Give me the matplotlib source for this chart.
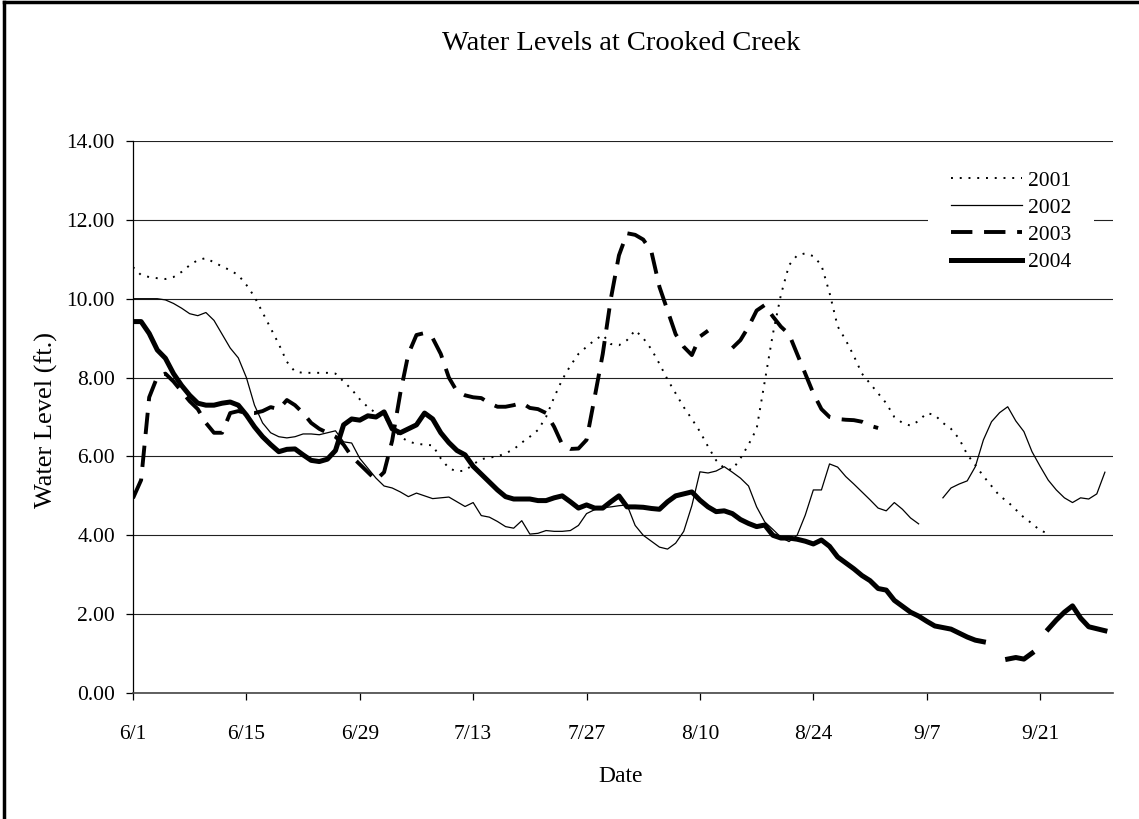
import numpy as np
import matplotlib
matplotlib.use("Agg")
import matplotlib.pyplot as plt
from matplotlib.lines import Line2D

nan = np.nan

# ---- data (day index 0 = 6/1) ----
tick_days = [0, 14, 28, 42, 56, 70, 84, 98, 112]
tick_labels = ["6/1", "6/15", "6/29", "7/13", "7/27", "8/10", "8/24", "9/7", "9/21"]
y_ticks = [0, 2, 4, 6, 8, 10, 12, 14]

level_2001 = [10.8, 10.6, 10.55, 10.52, 10.5, 10.55, 10.68, 10.85, 10.98, 11.03,
              10.92, 10.82, 10.72, 10.6, 10.35, 10.05, 9.65, 9.25, 8.85, 8.4,
              8.15, 8.12, 8.12, 8.12, 8.12, 8.1, 7.9, 7.7, 7.45, 7.25,
              7.1, 7.0, 6.75, 6.5, 6.38, 6.32, 6.3, 6.28, 5.95, 5.7,
              5.62, 5.64, 5.8, 5.93, 5.97, 6.0, 6.08, 6.18, 6.35, 6.5,
              6.67, 7.0, 7.5, 7.95, 8.3, 8.6, 8.78, 8.95, 9.08, 8.85,
              8.82, 8.95, 9.2, 9.0, 8.72, 8.35, 7.95, 7.6, 7.25, 6.95,
              6.63, 6.25, 5.9, 5.7, 5.66, 5.95, 6.3, 6.7, 7.9, 9.1,
              10.1, 10.85, 11.1, 11.15, 11.08, 10.85, 10.15, 9.3, 8.95, 8.55,
              8.1, 7.85, 7.6, 7.35, 7.0, 6.85, 6.78, 6.9, 7.1, 7.05,
              6.85, 6.7, 6.45, 6.05, 5.78, 5.5, 5.25, 5.0, 4.85, 4.65,
              4.45, 4.3, 4.12, 4.05, nan, nan, nan, nan, nan, nan,
              nan]

level_2002 = [10.0, 10.0, 10.0, 10.0, 9.97, 9.88, 9.76, 9.62, 9.57, 9.65,
              9.45, 9.1, 8.75, 8.5, 8.0, 7.3, 6.85, 6.6, 6.5, 6.47,
              6.5, 6.57, 6.57, 6.55, 6.6, 6.65, 6.37, 6.34, 5.95, 5.7,
              5.45, 5.25, 5.2, 5.1, 4.98, 5.07, 5.0, 4.93, 4.95, 4.97,
              4.85, 4.73, 4.83, 4.5, 4.46, 4.35, 4.22, 4.18, 4.37, 4.03,
              4.05, 4.12, 4.1, 4.1, 4.12, 4.25, 4.55, 4.65, 4.7, 4.72,
              4.75, 4.77, 4.25, 4.0, 3.85, 3.7, 3.65, 3.8, 4.1, 4.75,
              5.61, 5.58, 5.63, 5.74, 5.6, 5.45, 5.25, 4.72, 4.34, 4.15,
              3.95, 3.84, 4.0, 4.51, 5.15, 5.15, 5.81, 5.73, 5.49, 5.3,
              5.1, 4.9, 4.69, 4.62, 4.83, 4.66, 4.44, 4.29, nan, nan,
              4.95, 5.2, 5.3, 5.38, 5.74, 6.42, 6.88, 7.11, 7.26, 6.9,
              6.63, 6.12, 5.75, 5.4, 5.15, 4.95, 4.83, 4.95, 4.92, 5.05,
              5.6]

level_2003 = [4.94, 5.4, 7.5, 8.02, 8.1, 7.9, 7.65, 7.4, 7.2, 6.85,
              6.6, 6.6, 7.1, 7.15, 7.1, 7.1, 7.15, 7.25, 7.2, 7.43,
              7.3, 7.1, 6.85, 6.7, 6.6, 6.5, 6.3, 6.0, 5.8, 5.6,
              5.4, 5.6, 6.4, 7.6, 8.6, 9.08, 9.13, 9.0, 8.6, 8.0,
              7.65, 7.55, 7.5, 7.48, 7.35, 7.26, 7.26, 7.3, 7.36, 7.23,
              7.2, 7.1, 6.75, 6.3, 6.19, 6.2, 6.42, 7.5, 8.6, 10.0,
              11.1, 11.66, 11.62, 11.5, 11.2, 10.3, 9.7, 9.1, 8.78, 8.57,
              9.04, 9.19, nan, nan, 8.75, 8.95, 9.29, 9.7, 9.84, 9.55,
              9.29, 9.1, 8.6, 8.1, 7.6, 7.2, 7.0, 6.95, 6.93, 6.92,
              6.88, 6.78, 6.72, nan, nan, nan, nan, nan, nan, nan,
              nan, nan, nan, nan, nan, nan, nan, nan, nan, nan,
              nan, nan, nan, nan, nan, nan, nan, nan, nan, nan,
              nan]

level_2004 = [9.42, 9.42, 9.12, 8.7, 8.49, 8.1, 7.8, 7.55, 7.35, 7.3,
              7.3, 7.35, 7.38, 7.3, 7.05, 6.75, 6.5, 6.3, 6.12, 6.18,
              6.19, 6.04, 5.9, 5.87, 5.93, 6.15, 6.8, 6.95, 6.92, 7.03,
              7.0, 7.13, 6.7, 6.6, 6.7, 6.8, 7.1, 6.95, 6.6, 6.35,
              6.15, 6.04, 5.75, 5.55, 5.35, 5.15, 4.98, 4.92, 4.92, 4.92,
              4.88, 4.88, 4.95, 5.0, 4.85, 4.69, 4.77, 4.69, 4.69, 4.85,
              5.0, 4.72, 4.72, 4.71, 4.68, 4.66, 4.85, 5.0, 5.05, 5.1,
              4.89, 4.72, 4.6, 4.62, 4.55, 4.4, 4.3, 4.22, 4.26, 4.0,
              3.93, 3.93, 3.9, 3.85, 3.78, 3.88, 3.72, 3.45, 3.3, 3.15,
              2.98, 2.85, 2.65, 2.61, 2.35, 2.2, 2.05, 1.95, 1.82, 1.7,
              1.66, 1.62, 1.52, 1.42, 1.34, 1.3, nan, nan, 0.86, 0.9,
              0.86, 1.01, nan, 1.62, 1.85, 2.05, 2.21, 1.9, 1.68, 1.63,
              1.58]

series_labels = ["2001", "2002", "2003", "2004"]

# ---- figure ----
W, H = 1139, 819
plt.rcParams['font.family'] = ['Liberation Serif', 'DejaVu Serif']
fig = plt.figure(figsize=(W / 100, H / 100), dpi=100)
fig.patch.set_facecolor('white')

L, R, T, B = 133, 1113, 141, 693
ax = fig.add_axes([L / W, 1 - B / H, (R - L) / W, (B - T) / H])

days = np.arange(len(level_2001))
ax.plot(days, level_2001, color='black', lw=1.4, linestyle=(0, (1, 3.5)), label=series_labels[0])
ax.plot(days, level_2002, color='black', lw=0.9, linestyle='-', label=series_labels[1])
ax.plot(days, level_2003, color='black', lw=2.8, linestyle=(0, (5.5, 3)), label=series_labels[2])
ax.plot(days, level_2004, color='black', lw=3.6, linestyle='-', label=series_labels[3])

ax.set_xlim(0, 121)
ax.set_ylim(0, 14)
ax.set_yticks(y_ticks)
ax.set_yticklabels([f"{v:.2f}" for v in y_ticks])
ax.set_xticks(tick_days)
ax.set_xticklabels(tick_labels)

ax.grid(axis='y', color='#222222', lw=0.8)
ax.set_axisbelow(True)
for s in ['top', 'right']:
    ax.spines[s].set_visible(False)
ax.spines['left'].set_color('black')
ax.spines['left'].set_linewidth(0.9)
ax.spines['bottom'].set_color('#444444')
ax.spines['bottom'].set_linewidth(1.2)

ax.tick_params(axis='y', direction='out', length=5, width=0.9, pad=8, labelsize=15.5)
ax.tick_params(axis='x', direction='out', length=5, width=0.9, pad=18, labelsize=15.5)

fig.text(621 / W, 1 - 43 / H, "Water Levels at Crooked Creek", ha='center', va='center', fontsize=20.5)
fig.text(621 / W, 1 - 777 / H, "Date", ha='center', va='center', fontsize=17)
fig.text(46 / W, 1 - 420 / H, "Water Level (ft.)", ha='center', va='center', rotation=90, fontsize=19)

leg = ax.legend(loc='upper left', bbox_to_anchor=(928 / W, 1 - 148 / H),
                bbox_transform=fig.transFigure, frameon=True, fontsize=15.5,
                handlelength=3.3, handletextpad=0.3, labelspacing=0.33,
                borderpad=1.05, borderaxespad=0, fancybox=False)
leg.get_frame().set_edgecolor('none')
leg.get_frame().set_facecolor('white')
leg.get_frame().set_alpha(1)

# outer chart border (left and top visible)
fig.add_artist(Line2D([4 / W, 4 / W], [0, 1 - 2 / H], transform=fig.transFigure, color='black', lw=2.5))
fig.add_artist(Line2D([4 / W, 1], [1 - 2 / H, 1 - 2 / H], transform=fig.transFigure, color='black', lw=2.5))

fig.savefig("out.png", dpi=100, facecolor='white')
